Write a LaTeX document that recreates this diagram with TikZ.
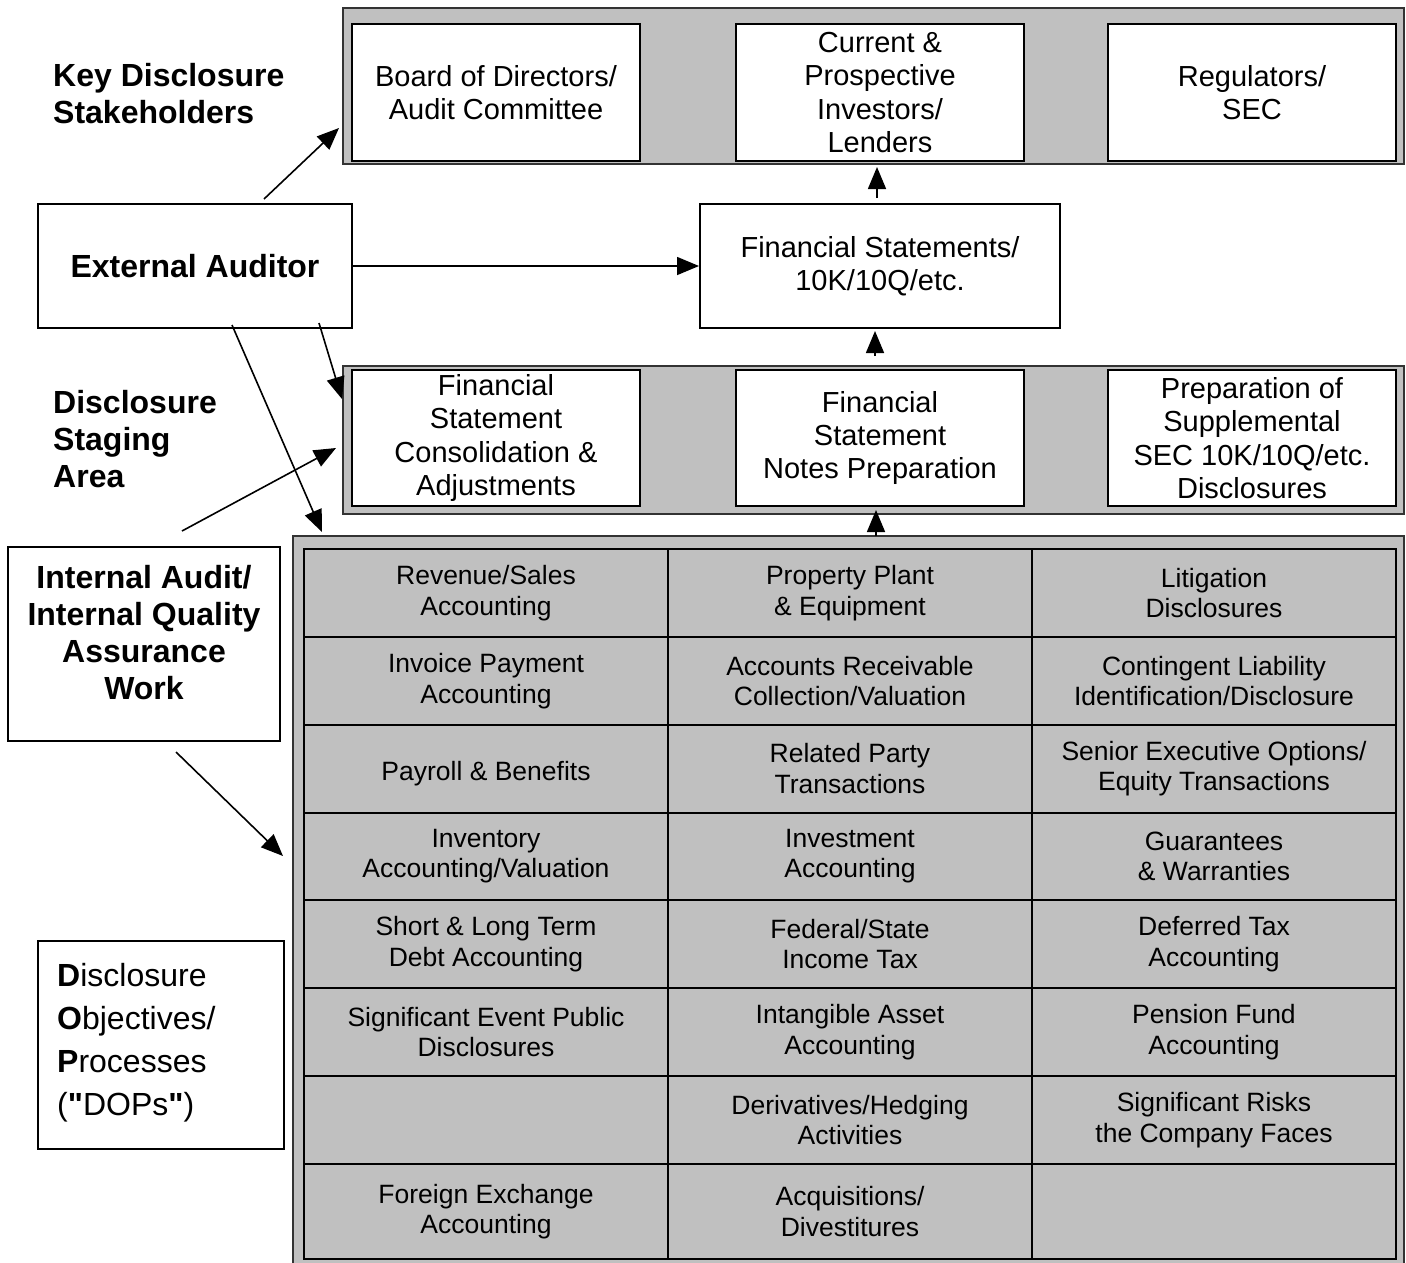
\documentclass[tikz,border=0pt]{standalone}
\usepackage{fontspec}
\setmainfont{Liberation Sans}
\newfontfamily\qfont{Liberation Sans}[Ligatures=TeXOff]
\usetikzlibrary{arrows.meta,calc}
\definecolor{panelgray}{RGB}{192,192,192}
\newcommand\dopcell[5]{\node[cell,minimum height=#4pt] (#1) at (#2,#3) {#5};}
\newcommand\straightq{{\qfont\bfseries "}}
\begin{document}
\begin{tikzpicture}[x=1pt,y=-1pt,
  panel/.style={draw=black!80,line width=2pt,fill=panelgray,inner sep=0pt},
  struts/.style={execute at begin node={\rule{0pt}{1.1em}}},
  plainbox/.style={draw=black,line width=2pt,fill=white,inner sep=0pt,align=center},
  wbox/.style={plainbox,struts,font=\fontsize{29}{33.4}\selectfont},
  cell/.style={draw=black,line width=2pt,inner sep=0pt,align=center,minimum width=364pt,struts,font=\fontsize{26.5}{30.5}\selectfont},
  heading/.style={align=left,inner sep=0pt,font=\bfseries\fontsize{32}{37}\selectfont},
  arr/.style={line width=1.6pt,-{Triangle[length=22pt,width=18pt]}}]
\useasboundingbox (0,0) rectangle (1406,1262);
\clip (0,0) rectangle (1406,1262);

% panels
\node[panel,minimum width=1061pt,minimum height=156pt] (toppanel) at (873.5,86) {};
\node[panel,minimum width=1061pt,minimum height=148pt] (stagepanel) at (873.5,440) {};
\node[panel,minimum width=1111pt,minimum height=744pt] (dopanel) at (848.5,908) {};

% stakeholders
\node[wbox,minimum width=288pt,minimum height=137pt] (board) at (496,92.5) {Board of Directors/\\Audit Committee};
\node[wbox,minimum width=288pt,minimum height=137pt] (invest) at (880,92.5) {Current \&\\Prospective\\Investors/\\Lenders};
\node[wbox,minimum width=288pt,minimum height=137pt] (reg) at (1252,92.5) {Regulators/\\SEC};

% financial statements
\node[wbox,minimum width=360pt,minimum height=124pt] (fs) at (880,266) {Financial Statements/\\10K/10Q/etc.};

% staging
\node[wbox,minimum width=288pt,minimum height=136pt] (cons) at (496,438) {Financial\\Statement\\Consolidation \&\\Adjustments};
\node[wbox,minimum width=288pt,minimum height=136pt] (notes) at (880,438) {Financial\\Statement\\Notes Preparation};
\node[wbox,minimum width=288pt,minimum height=136pt] (supp) at (1252,438) {Preparation of\\Supplemental\\SEC 10K/10Q/etc.\\Disclosures};

% left side
\node[heading,anchor=west] (kds) at (53,93.5) {Key Disclosure\\Stakeholders};
\node[heading,anchor=west] (dsa) at (53,439) {Disclosure\\Staging\\Area};
\node[plainbox,minimum width=314pt,minimum height=124pt,font=\bfseries\fontsize{32}{37}\selectfont] (ext) at (195,266) {External Auditor};
\node[plainbox,minimum width=272pt,minimum height=194pt] (internal) at (144,644) {};
\node[heading,align=center] (internaltxt) at (144,632.5) {Internal Audit/\\Internal Quality\\Assurance\\Work};
\node[plainbox,minimum width=246pt,minimum height=208pt] (dops) at (161,1045) {};
\node[anchor=west,align=left,inner sep=0pt,font=\fontsize{32}{43}\selectfont] (dopstxt) at (57,1042.5)
  {\textbf{D}isclosure\\\textbf{O}bjectives/\\\textbf{P}rocesses\\(\straightq DOPs\straightq)};

% DOP grid
\dopcell{c11}{486}{593}{88}{Revenue/Sales\\Accounting}
\dopcell{c12}{850}{593}{88}{Property Plant\\\& Equipment}
\dopcell{c13}{1214}{593}{88}{Litigation\\Disclosures}
\dopcell{c21}{486}{681}{88}{Invoice Payment\\Accounting}
\dopcell{c22}{850}{681}{88}{Accounts Receivable\\Collection/Valuation}
\dopcell{c23}{1214}{681}{88}{Contingent Liability\\Identification/Disclosure}
\dopcell{c31}{486}{768.75}{87.5}{Payroll \& Benefits}
\dopcell{c32}{850}{768.75}{87.5}{Related Party\\Transactions}
\dopcell{c33}{1214}{768.75}{87.5}{Senior Executive Options/\\Equity Transactions}
\dopcell{c41}{486}{856.25}{87.5}{Inventory\\Accounting/Valuation}
\dopcell{c42}{850}{856.25}{87.5}{Investment\\Accounting}
\dopcell{c43}{1214}{856.25}{87.5}{Guarantees\\\& Warranties}
\dopcell{c51}{486}{944}{88}{Short \& Long Term\\Debt Accounting}
\dopcell{c52}{850}{944}{88}{Federal/State\\Income Tax}
\dopcell{c53}{1214}{944}{88}{Deferred Tax\\Accounting}
\dopcell{c61}{486}{1032}{88}{Significant Event Public\\Disclosures}
\dopcell{c62}{850}{1032}{88}{Intangible Asset\\Accounting}
\dopcell{c63}{1214}{1032}{88}{Pension Fund\\Accounting}
\dopcell{c71}{486}{1120}{88}{}
\dopcell{c72}{850}{1120}{88}{Derivatives/Hedging\\Activities}
\dopcell{c73}{1214}{1120}{88}{Significant Risks\\the Company Faces}
\dopcell{c81}{486}{1211.5}{95}{Foreign Exchange\\Accounting}
\dopcell{c82}{850}{1211.5}{95}{Acquisitions/\\Divestitures}
\dopcell{c83}{1214}{1211.5}{95}{}

% connectors
\draw[arr] ([xshift=227pt,yshift=4pt]ext.north west) -- ([xshift=-12pt,yshift=34pt]board.south west);
\draw[arr] (ext.east) -- (fs.west);
\draw[arr] ([xshift=-34pt,yshift=6pt]ext.south east) -- ([xshift=-9pt,yshift=39pt]cons.west);
\draw[arr] ([xshift=195pt,yshift=4pt]ext.south west) -- ([xshift=30pt,yshift=3pt]dopanel.north west);
\draw[arr] ([xshift=38pt,yshift=15pt]internal.north) -- ([xshift=-15pt,yshift=-10pt]cons.west);
\draw[arr] ([xshift=32pt,yshift=-10pt]internal.south) -- ([xshift=-9pt,yshift=-321pt]dopanel.north west);
\draw[arr] ([xshift=-3pt,yshift=5pt]fs.north) -- ([xshift=-3pt,yshift=-5pt]invest.south);
\draw[arr] ([xshift=-5pt,yshift=13pt]notes.north) -- ([xshift=-5pt,yshift=-2pt]fs.south);
\draw[arr] ([xshift=27.5pt,yshift=-1pt]dopanel.north) -- ([xshift=-4pt,yshift=-3pt]notes.south);
\end{tikzpicture}
\end{document}
